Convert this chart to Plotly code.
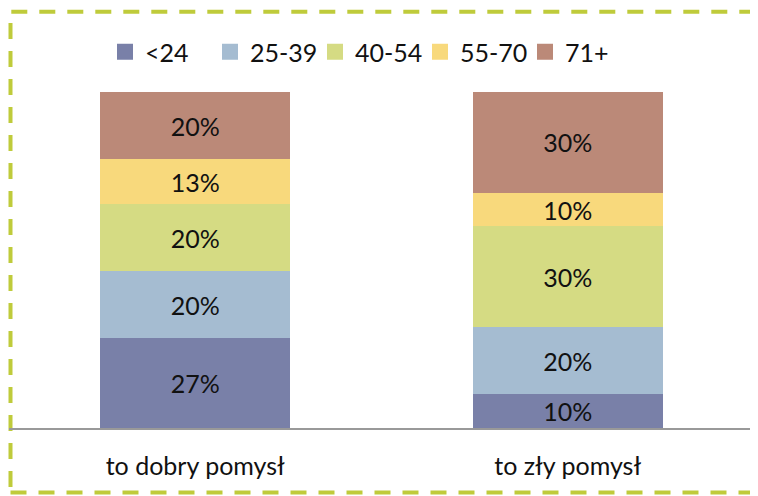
import plotly.graph_objects as go

categories = ["to dobry pomysł", "to zły pomysł"]
age_groups = ["<24", "25-39", "40-54", "55-70", "71+"]
values = {
    "<24": [26.67, 10],
    "25-39": [20, 20],
    "40-54": [20, 30],
    "55-70": [13.33, 10],
    "71+": [20, 30],
}
colors = {
    "<24": "#7980A8",
    "25-39": "#A5BCD1",
    "40-54": "#D5DB83",
    "55-70": "#F8D97C",
    "71+": "#BB8978",
}

FONT = "Lato"
FS = 25

fig = go.Figure()
for g in age_groups:
    fig.add_trace(go.Bar(
        name=g,
        x=categories,
        y=values[g],
        marker=dict(color=colors[g], line=dict(width=0)),
        texttemplate="%{y:.0f}%",
        textposition="inside",
        insidetextanchor="middle",
        textangle=0,
        textfont=dict(family=FONT, size=FS, color="#111111"),
        width=0.51,
        showlegend=False,
        legendgroup=g,
    ))
# legend entries with larger square swatches
for g in age_groups:
    fig.add_trace(go.Scatter(
        x=[None], y=[None], mode="markers", name=g, legendgroup=g,
        marker=dict(symbol="square", size=16, color=colors[g]),
        showlegend=True,
    ))

fig.update_layout(
    barmode="stack",
    width=758,
    height=496,
    margin=dict(l=1, r=12, t=84, b=76),
    paper_bgcolor="white",
    plot_bgcolor="white",
    font=dict(family=FONT, size=FS, color="#111111"),
    uniformtext=dict(minsize=FS, mode="show"),
    showlegend=True,
    legend=dict(
        orientation="h",
        x=(97 - 1) / 745, xanchor="left",
        y=(420 - 44) / 336, yanchor="middle",
        font=dict(family=FONT, size=FS, color="#111111"),
        traceorder="normal",
        itemwidth=30,
        entrywidth=60,
        entrywidthmode="pixels",
        bgcolor="rgba(0,0,0,0)",
    ),
    xaxis=dict(
        range=[-0.5, 1.5],
        showline=True, linecolor="#999999", linewidth=2,
        showgrid=False, zeroline=False,
        ticks="", ticklabelstandoff=15,
        tickfont=dict(family=FONT, size=FS, color="#111111"),
    ),
    yaxis=dict(
        range=[0, 100],
        visible=False, showgrid=False, zeroline=False,
    ),
    shapes=[dict(
        type="rect", xref="paper", yref="paper",
        x0=(2.5 - 1) / 745, x1=1.1,
        y0=(420 - 484.5) / 336, y1=(420 - 3.7) / 336,
        line=dict(color="#BFCB3B", width=4, dash="16px,12px"),
        fillcolor="rgba(0,0,0,0)",
        layer="below",
    )],
)

fig.write_html("out.html")
